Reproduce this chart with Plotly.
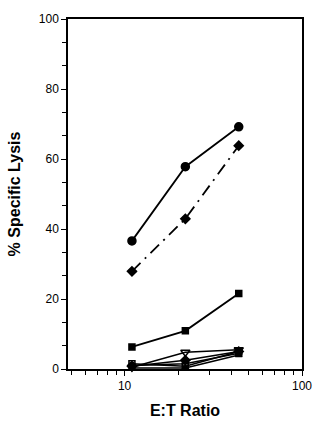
import plotly.graph_objects as go

et_ratio = [11, 22, 44]

circle_filled = [36.6, 57.8, 69.2]
diamond_dashdot = [27.9, 42.9, 63.8]
square_filled = [6.3, 10.9, 21.6]
square_open = [1.5, 0.8, 5.0]
tri_down_open = [0.5, 4.8, 5.5]
diamond_small = [0.8, 2.5, 5.0]
circle_open = [1.0, 1.5, 4.5]
tri_filled = [0.3, 0.3, 4.0]

x_major = [10, 100]
x_minor = [5, 6, 7, 8, 9, 20, 30, 40, 50, 60, 70, 80, 90]
y_major = [0, 20, 40, 60, 80, 100]
y_minor = [v * 20 / 3 for v in range(16) if v % 3 != 0]

fig = go.Figure()

def add(y, symbol, dash="solid", size=8, width=1.8):
    fig.add_trace(go.Scatter(
        x=et_ratio, y=y, mode="lines+markers",
        line=dict(color="black", width=width, dash=dash),
        marker=dict(symbol=symbol, size=size, color="black",
                    line=dict(color="black", width=1.5)),
        showlegend=False, cliponaxis=False))

add(tri_filled, "triangle-up", size=6, width=1.5)
add(circle_open, "circle-open", size=6, width=1.5)
add(diamond_small, "diamond", size=7, width=1.5)
add(tri_down_open, "triangle-down-open", size=8, width=1.5)
add(square_open, "square-open", size=6, width=1.5)
add(square_filled, "square", size=6)
add(diamond_dashdot, "diamond", dash="12px,6px,2px,6px", size=7)
add(circle_filled, "circle", size=8)

font = "Arial, Liberation Sans, sans-serif"

fig.update_layout(
    width=314, height=430,
    margin=dict(l=68, r=12, t=19, b=61),
    paper_bgcolor="white", plot_bgcolor="white",
    font=dict(family=font, color="black", size=12),
    xaxis=dict(
        type="log", range=[0.681, 2.0], automargin=False,
        tickvals=x_major, ticktext=["10", "100"],
        ticks="outside", ticklen=5, tickwidth=1, tickcolor="black",
        minor=dict(tickvals=x_minor, ticks="outside", ticklen=4, tickwidth=1, tickcolor="black"),
        showline=True, linecolor="black", linewidth=1.5, mirror=True,
        showgrid=False, zeroline=False,
        title=dict(text="<b>E:T Ratio</b>", font=dict(size=16), standoff=13),
        tickfont=dict(size=12),
    ),
    yaxis=dict(
        range=[0, 100], automargin=False,
        tickvals=y_major,
        ticks="outside", ticklen=5, tickwidth=1, tickcolor="black",
        minor=dict(tickvals=y_minor, ticks="outside", ticklen=4, tickwidth=1, tickcolor="black"),
        showline=True, linecolor="black", linewidth=1.5, mirror=True,
        showgrid=False, zeroline=False,
        title=dict(text="<b>% Specific Lysis</b>", font=dict(size=16), standoff=14),
        tickfont=dict(size=12),
    ),
)

fig.write_html("out.html")
